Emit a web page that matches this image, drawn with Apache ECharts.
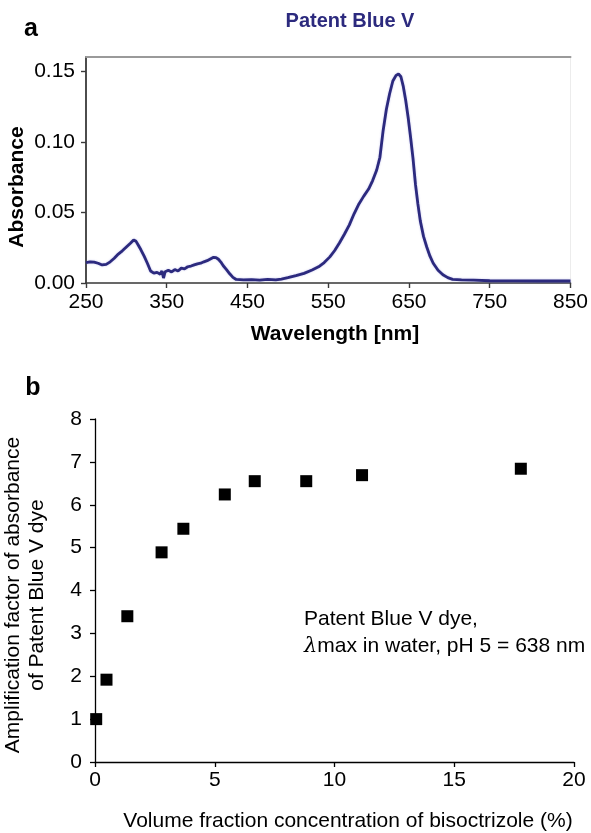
<!DOCTYPE html>
<html>
<head>
<meta charset="utf-8">
<script src="https://cdn.jsdelivr.net/npm/echarts@6/dist/echarts.min.js"></script>
<style>
  html, body { margin: 0; padding: 0; background: #fff; }
  #chart { width: 591px; height: 833px; }
</style>
</head>
<body>
<div id="chart"></div>
<script>
// Panel a: absorption spectrum of Patent Blue V
const wavelengthNm = [
  250, 255, 260, 265, 270, 275, 280, 285, 290, 295, 300, 305, 309, 312, 315, 318,
  322, 326, 330, 334, 338, 342, 344, 346, 348, 352, 356, 360, 364, 368, 372, 376,
  380, 384, 388, 392, 396, 400, 404, 408, 411, 414, 417, 420, 424, 428, 432, 436,
  445, 455, 465, 475, 485, 492, 500, 510, 520, 530, 538, 545, 552, 558, 564, 570,
  576, 582, 588, 594, 600, 605, 610, 614, 618, 622, 626, 630, 634, 637, 640, 643,
  646, 649, 652, 655, 658, 661, 664, 668, 672, 676, 680, 686, 692, 698, 704, 715,
  730, 750, 780, 810, 850
];
const absorbance = [
  0.0145, 0.0150, 0.0148, 0.0140, 0.0128, 0.0132, 0.0150, 0.0175, 0.0205, 0.0228, 0.0255, 0.0282, 0.0305, 0.0295, 0.0265, 0.0235,
  0.0190, 0.0140, 0.0085, 0.0070, 0.0075, 0.0062, 0.0085, 0.0035, 0.0080, 0.0090, 0.0078, 0.0095, 0.0085, 0.0105, 0.0100, 0.0115,
  0.0120, 0.0128, 0.0135, 0.0140, 0.0150, 0.0158, 0.0170, 0.0182, 0.0180, 0.0168, 0.0148, 0.0122, 0.0095, 0.0065, 0.0040, 0.0025,
  0.0022, 0.0024, 0.0020, 0.0025, 0.0022, 0.0028, 0.0038, 0.0052, 0.0068, 0.0092, 0.0115, 0.0145, 0.0185, 0.0230, 0.0285, 0.0345,
  0.0410, 0.0490, 0.0560, 0.0615, 0.0665, 0.0725, 0.0800, 0.0890, 0.1080, 0.1230, 0.1340, 0.1430, 0.1470, 0.1480, 0.1460, 0.1390,
  0.1290, 0.1170, 0.1030, 0.0880, 0.0700, 0.0560, 0.0440, 0.0330, 0.0255, 0.0190, 0.0140, 0.0090, 0.0058, 0.0038, 0.0026, 0.0022,
  0.0020, 0.0016, 0.0015, 0.0014, 0.0014
];

// Panel b: amplification factor vs. bisoctrizole volume fraction
const volumeFractionPct = [0.05, 0.48, 1.35, 2.78, 3.69, 5.42, 6.67, 8.82, 11.15, 17.78];
const amplificationFactor = [1.00, 1.92, 3.40, 4.89, 5.44, 6.24, 6.55, 6.55, 6.69, 6.84];

const FONT = '"Liberation Sans", Arial, Helvetica, sans-serif';
const NAVY = '#2c2a7e';

const spectrum = wavelengthNm.map((w, i) => [w, absorbance[i]]);
const amplification = volumeFractionPct.map((v, i) => [v, amplificationFactor[i]]);

const chart = echarts.init(document.getElementById('chart'), null, { renderer: 'canvas' });

chart.setOption({
  animation: false,
  backgroundColor: '#fff',
  textStyle: { fontFamily: FONT },
  grid: [
    { left: 86, top: 57, width: 485, height: 226, show: true, borderColor: '#ececec', borderWidth: 1, backgroundColor: 'transparent' },
    { left: 95, top: 419, width: 479, height: 343 }
  ],
  xAxis: [
    {
      gridIndex: 0, type: 'value', min: 250, max: 850, interval: 100,
      axisLine: { show: true, lineStyle: { color: '#3a3a3a', width: 1.6 } },
      axisTick: { show: true, inside: false, length: 5, lineStyle: { color: '#3a3a3a', width: 1.4 } },
      axisLabel: { color: '#000', fontSize: 21, margin: 9, fontFamily: FONT },
      splitLine: { show: false }
    },
    {
      // top frame of panel a
      gridIndex: 0, type: 'value', position: 'top', min: 250, max: 850,
      axisLine: { show: true, lineStyle: { color: '#9a9a9a', width: 2 } },
      axisTick: { show: false }, axisLabel: { show: false }, splitLine: { show: false }
    },
    {
      gridIndex: 1, type: 'value', min: 0, max: 20, interval: 5,
      axisLine: { show: true, onZero: false, lineStyle: { color: '#000', width: 1.3 } },
      axisTick: { show: true, inside: false, length: 5, lineStyle: { color: '#000', width: 1.3 } },
      axisLabel: { color: '#000', fontSize: 21, margin: 8, fontFamily: FONT },
      splitLine: { show: false }
    }
  ],
  yAxis: [
    {
      gridIndex: 0, type: 'value', min: 0, max: 0.16, interval: 0.05,
      axisLine: { show: true, lineStyle: { color: '#3a3a3a', width: 1.8 } },
      axisTick: { show: true, inside: false, length: 5, lineStyle: { color: '#3a3a3a', width: 1.4 } },
      axisLabel: {
        color: '#000', fontSize: 21, margin: 11, fontFamily: FONT, showMaxLabel: false,
        formatter: v => v.toFixed(2)
      },
      splitLine: { show: false }
    },
    {
      gridIndex: 1, type: 'value', min: 0, max: 8, interval: 1,
      axisLine: { show: true, onZero: false, lineStyle: { color: '#000', width: 1.3 } },
      axisTick: { show: true, inside: false, length: 5, lineStyle: { color: '#000', width: 1.3 } },
      axisLabel: { color: '#000', fontSize: 21, margin: 13, fontFamily: FONT },
      splitLine: { show: false }
    }
  ],
  series: [
    {
      type: 'line', xAxisIndex: 0, yAxisIndex: 0, data: spectrum,
      showSymbol: false, smooth: false,
      lineStyle: { color: NAVY, width: 2.8, shadowColor: 'rgba(120,120,210,0.45)', shadowBlur: 2 },
      z: 3
    },
    {
      type: 'scatter', xAxisIndex: 2, yAxisIndex: 1, data: amplification,
      symbol: 'rect', symbolSize: 12,
      itemStyle: { color: '#000', opacity: 1 }
    }
  ],
  graphic: [
    { type: 'text', x: 31, y: 29, style: { text: 'a', font: 'bold 25px ' + FONT, fill: '#000', textAlign: 'center', textVerticalAlign: 'middle' } },
    { type: 'text', x: 350, y: 21, style: { text: 'Patent Blue V', font: 'bold 20px ' + FONT, fill: NAVY, textAlign: 'center', textVerticalAlign: 'middle' } },
    { type: 'text', x: 17, y: 187, rotation: Math.PI / 2, style: { text: 'Absorbance', font: 'bold 21px ' + FONT, fill: '#000', textAlign: 'center', textVerticalAlign: 'middle' } },
    { type: 'text', x: 335, y: 334, style: { text: 'Wavelength [nm]', font: 'bold 21px ' + FONT, fill: '#000', textAlign: 'center', textVerticalAlign: 'middle' } },
    { type: 'text', x: 33, y: 388, style: { text: 'b', font: 'bold 25px ' + FONT, fill: '#000', textAlign: 'center', textVerticalAlign: 'middle' } },
    {
      type: 'text', x: 25, y: 595, rotation: Math.PI / 2,
      style: {
        text: 'Amplification factor of absorbance\nof Patent Blue V dye',
        font: '21px ' + FONT, lineHeight: 24, fill: '#000', textAlign: 'center', textVerticalAlign: 'middle'
      }
    },
    { type: 'text', x: 348, y: 821, style: { text: 'Volume fraction concentration of bisoctrizole (%)', font: '21px ' + FONT, fill: '#000', textAlign: 'center', textVerticalAlign: 'middle' } },
    {
      type: 'text', x: 304, y: 633,
      style: {
        text: 'Patent Blue V dye,\n{i|λ}max in water, pH 5 = 638 nm',
        font: '21px ' + FONT, fontSize: 21, fontFamily: FONT, lineHeight: 27, fill: '#000',
        textAlign: 'left', textVerticalAlign: 'middle',
        rich: { i: { fontStyle: 'italic', fontSize: 21, fontFamily: '"DejaVu Serif", serif', fill: '#000' } }
      }
    }
  ]
});
</script>
</body>
</html>
